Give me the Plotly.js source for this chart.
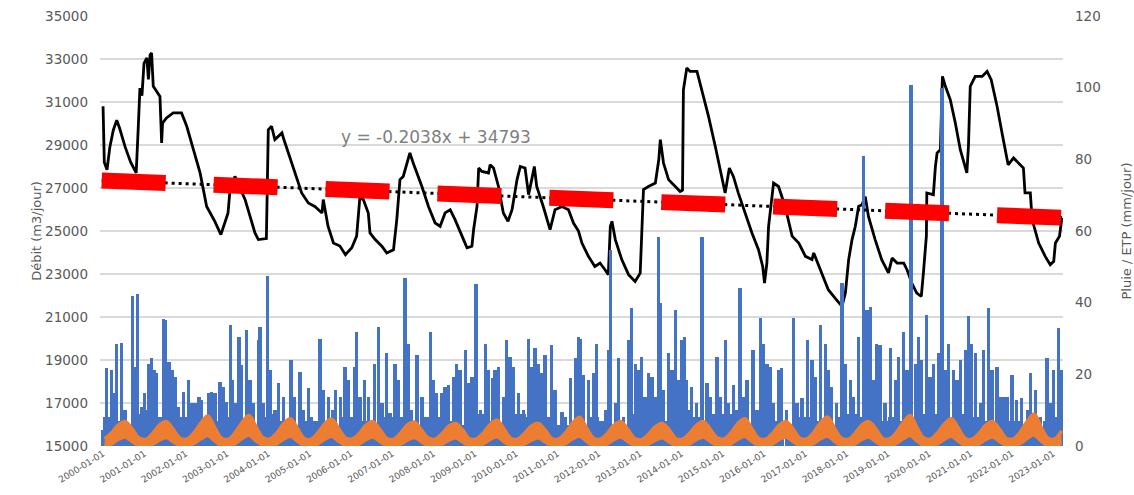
<!DOCTYPE html>
<html>
<head>
<meta charset="utf-8">
<script src="https://cdn.plot.ly/plotly-3.0.1.min.js"></script>
<style>html,body{margin:0;padding:0;background:#fff;}#chart{width:1134px;height:495px;}</style>
</head>
<body>
<div id="chart"></div>
<script>
// ---- Débit (m3/jour), left axis ----
const qDates = [
'2000-01-01','2000-01-12','2000-02-05','2000-03-01','2000-04-01','2000-05-01','2000-05-25','2000-07-15','2000-09-01','2000-10-20',
'2000-11-08','2000-11-22','2000-12-10','2000-12-28','2001-01-22','2001-02-05','2001-02-20','2001-03-05','2001-03-20','2001-04-20',
'2001-05-18','2001-06-02','2001-06-10','2001-07-15','2001-09-12','2001-11-25','2002-01-10','2002-03-10','2002-05-08','2002-07-05',
'2002-09-15','2002-11-08','2003-01-10','2003-01-25','2003-03-12','2003-06-10','2003-09-05','2003-10-05','2003-12-15','2004-01-01',
'2004-01-30','2004-02-28','2004-05-01','2004-05-15','2004-06-28','2004-08-25','2004-10-22','2004-12-20','2005-02-15','2005-04-20',
'2005-05-01','2005-06-12','2005-07-30','2005-09-25','2005-11-13','2006-01-08','2006-02-20','2006-03-20','2006-04-20','2006-06-03',
'2006-06-18','2006-08-03','2006-10-01','2006-11-13','2007-01-12','2007-02-10','2007-03-10','2007-04-08','2007-05-08','2007-06-06',
'2007-07-05','2007-09-20','2007-11-17','2008-01-15','2008-02-28','2008-04-12','2008-05-27','2008-07-09','2008-09-09','2008-10-23',
'2008-12-05','2008-12-20','2009-01-19','2009-02-03','2009-03-03','2009-05-01','2009-05-15','2009-06-14','2009-07-28','2009-09-09',
'2009-10-20','2009-11-25','2010-01-08','2010-02-06','2010-03-20','2010-04-20','2010-05-18','2010-06-10','2010-07-01','2010-08-28',
'2010-10-27','2010-12-10','2011-02-10','2011-04-08','2011-05-22','2011-07-05','2011-08-05','2011-10-01','2011-11-27','2012-01-12',
'2012-02-25','2012-03-25','2012-04-12','2012-04-26','2012-05-26','2012-07-22','2012-09-20','2012-11-17','2013-01-01','2013-01-15',
'2013-01-30','2013-03-15','2013-05-15','2013-06-14','2013-06-28','2013-07-26','2013-09-09','2013-11-07','2013-12-20','2014-01-10',
'2014-01-18','2014-02-17','2014-03-18','2014-05-18','2014-07-01','2014-08-28','2014-10-27','2014-12-25','2015-01-22','2015-02-28',
'2015-04-05','2015-05-18','2015-07-16','2015-09-16','2015-11-13','2015-12-20','2016-01-05','2016-01-26','2016-02-10','2016-03-25',
'2016-05-08','2016-07-05','2016-09-05','2016-11-03','2017-01-01','2017-02-28','2017-03-15','2017-05-25','2017-07-22','2017-09-20',
'2017-11-20','2017-12-20','2018-01-18','2018-02-17','2018-03-18','2018-04-16','2018-05-15','2018-06-14','2018-07-12','2018-09-09',
'2018-11-06','2019-01-05','2019-02-06','2019-03-22','2019-05-20','2019-06-18','2019-07-30','2019-09-12','2019-10-22','2019-11-10',
'2019-12-06','2019-12-10','2020-02-06','2020-02-24','2020-03-10','2020-04-08','2020-04-26','2020-05-22','2020-07-05','2020-08-18',
'2020-10-01','2020-11-28','2020-12-12','2020-12-28','2021-02-10','2021-04-12','2021-05-26','2021-07-01','2021-08-22','2021-10-05',
'2021-11-28','2022-01-15','2022-02-28','2022-04-12','2022-04-26','2022-06-12','2022-06-28','2022-08-25','2022-10-22','2022-12-05',
'2023-01-05','2023-01-20','2023-02-25','2023-03-18'
];
const qValues = [
30800,28200,27850,28900,29700,30150,29800,28900,28200,27700,
29900,31650,31300,32800,33050,32050,33200,33280,31730,31500,
31260,29090,30020,30260,30490,30490,29870,28780,27700,26140,
25450,24830,25840,26770,27540,26460,24910,24600,24650,29710,
29870,29250,29560,29300,28630,27700,26770,26300,26140,25840,
26460,25220,24440,24300,23900,24220,24760,26540,26460,25840,
24910,24600,24290,23980,24130,25530,27390,27540,28160,28630,
28160,27070,26140,25370,25220,25840,25990,25530,24760,24220,
24290,25060,26140,27930,27770,27700,28080,27930,27070,25840,
25450,25990,27390,28000,27930,26690,27390,28000,27070,26140,
25060,25990,26140,25990,25370,25000,24440,23820,23350,23510,
23200,22970,25220,25450,24600,23670,22970,22650,23040,24910,
26930,27070,27230,28310,29250,28160,27390,27070,26840,26900,
31570,32580,32420,32420,31570,30330,28930,27390,26770,27930,
27540,26770,25840,24910,24130,23350,22580,23510,25220,27230,
27070,26140,24760,24440,23820,23670,23980,23050,22270,21880,
21490,22110,23670,24600,25220,26140,26220,26600,25680,24600,
23670,23050,23740,23510,23510,23200,22580,22110,21960,23050,
24760,26770,26690,28000,28630,28780,32190,31730,31100,30020,
28780,27700,28930,31730,32190,32190,32420,32040,30800,29560,
28080,28400,28160,27930,26770,26770,25530,24440,23820,23430,
23590,24440,24760,25610
];

// ---- Pluie (mm/jour), right axis: visible spikes, position in decimal years ----
const rainYear = [
2000.00,2000.09,2000.21,2000.29,2000.33,2000.44,2000.53,2000.61,2000.71,2000.76,2000.84,2000.94,
2001.00,2001.10,2001.18,2001.24,2001.30,2001.38,2001.46,2001.52,2001.60,2001.68,2001.74,2001.82,2001.95,
2002.07,2002.15,2002.23,2002.32,2002.39,2002.55,2002.63,2002.71,2002.83,2002.91,2002.99,
2003.08,2003.12,2003.20,2003.29,2003.36,2003.48,2003.56,2003.64,2003.76,2003.80,2003.88,2003.99,
2004.04,2004.16,2004.25,2004.37,2004.55,2004.63,2004.77,2004.85,2004.97,
2005.05,2005.13,2005.25,2005.34,2005.46,2005.55,2005.62,2005.74,2005.86,2005.94,
2006.10,2006.14,2006.22,2006.33,2006.42,2006.57,2006.67,2006.75,2006.87,2006.95,
2007.07,2007.15,2007.31,2007.39,2007.47,2007.60,2007.72,2007.92,
2008.00,2008.08,2008.20,2008.28,2008.36,2008.48,2008.56,2008.64,2008.77,2008.85,2008.93,
2009.03,2009.13,2009.25,2009.33,2009.43,2009.49,2009.57,2009.69,2009.77,2009.85,2009.94,
2010.06,2010.18,2010.30,2010.38,2010.46,2010.54,2010.62,2010.70,2010.86,2010.94,
2011.11,2011.19,2011.31,2011.43,2011.51,2011.55,2011.63,2011.75,2011.87,2011.95,
2012.03,2012.16,2012.24,2012.29,2012.40,2012.48,2012.60,2012.72,2012.80,2012.88,2012.96,
2013.04,2013.12,2013.20,2013.29,2013.37,2013.45,2013.49,2013.57,2013.69,2013.77,2013.85,2013.93,
2014.01,2014.07,2014.13,2014.25,2014.37,2014.50,2014.62,2014.70,2014.86,2014.94,
2015.06,2015.14,2015.26,2015.34,2015.42,2015.50,2015.59,2015.73,2015.83,2015.91,2015.99,
2016.07,2016.15,2016.23,2016.35,2016.43,2016.55,2016.72,2016.80,2016.92,
2017.06,2017.16,2017.24,2017.36,2017.48,2017.56,2017.64,2017.76,2017.89,2017.97,
2018.09,2018.17,2018.29,2018.41,2018.49,2018.57,2018.65,2018.73,2018.81,2018.93,
2019.06,2019.18,2019.26,2019.38,2019.46,2019.56,2019.66,2019.74,2019.82,2019.94,
2020.02,2020.11,2020.23,2020.31,2020.39,2020.47,2020.59,2020.67,2020.75,2020.87,2020.95,
2021.03,2021.11,2021.24,2021.32,2021.44,2021.52,2021.64,2021.72,2021.80,2021.88,
2022.00,2022.12,2022.24,2022.37,2022.45,2022.57,2022.69,2022.85,2022.93,
2023.01,2023.13,2023.21
];
const rainMm = [
4.5,21.7,21.2,14.7,28.6,28.8,10.0,4.5,41.9,22.1,42.4,11.0,
14.7,23.0,24.5,21.2,20.3,5.4,35.4,35.2,23.5,21.2,19.3,11.0,15.2,
18.4,11.9,11.9,13.8,12.8,14.7,15.2,14.7,17.9,16.6,12.4,
33.8,18.4,11.9,30.5,22.6,32.4,18.4,11.9,29.6,33.3,11.9,47.4,
21.2,10.0,17.5,13.8,24.0,13.8,20.7,10.0,16.1,
8.2,6.3,29.8,15.6,13.8,10.0,15.6,13.8,22.1,18.4,
22.1,31.9,13.8,18.4,13.8,23.0,33.3,11.9,25.9,9.1,
23.0,18.4,46.8,28.6,10.0,25.4,13.8,31.9,
18.4,14.7,14.7,16.6,17.0,19.3,23.0,21.2,26.8,17.5,19.3,
45.2,10.0,28.6,21.2,18.9,21.2,22.1,13.8,29.6,24.9,22.1,
14.7,10.0,30.0,22.1,27.3,23.0,20.3,25.4,28.2,15.6,
9.6,8.2,18.9,24.5,30.5,29.8,19.8,18.4,20.3,28.6,
6.3,10.0,26.8,54.7,11.9,24.5,8.2,29.6,38.4,23.0,21.2,
24.9,13.8,20.3,19.3,13.8,58.4,39.8,15.6,25.9,21.2,37.9,18.4,
29.6,30.5,18.4,16.6,11.9,58.4,17.5,13.8,24.9,13.8,
29.6,11.9,17.0,10.0,44.0,13.8,18.4,26.8,10.0,35.6,28.6,
23.0,22.1,11.9,21.2,21.7,10.0,35.6,11.9,13.3,
29.6,24.0,19.3,33.8,28.6,21.2,16.6,11.9,45.4,23.0,
18.4,13.8,30.5,81.0,37.9,38.8,18.4,28.6,28.2,11.9,
27.3,18.4,24.9,31.9,21.2,100.8,23.0,30.5,24.0,36.6,
19.3,23.0,25.9,100.0,21.2,28.6,21.2,18.4,24.0,26.8,36.3,
28.6,25.9,11.9,26.8,38.4,21.2,22.1,13.8,13.8,13.8,
19.8,12.8,13.3,10.0,20.3,15.6,8.2,24.5,11.9,
21.2,32.8,21.2
];
// background rainfall level, one value per quarter (Feb, May, Aug, Nov)
const baseQuarterMonths = ['02','05','08','11'];
const rainBase = [
[8,7,5,9],[10,8,6,8],[8,7,5,7],[8,6,5,8],[9,7,5,7],[7,6,5,8],[8,7,5,8],[8,7,6,8],
[8,7,6,8],[9,7,6,9],[9,8,6,8],[6,6,5,8],[7,6,6,9],[10,8,7,9],[10,8,6,9],[9,7,5,8],
[9,7,5,8],[8,7,6,8],[9,8,6,7],[8,7,6,9],[9,7,6,9],[8,7,6,7],[7,6,5,7],[8]
];

// ---- ETP (mm/jour), right axis: upper and lower edge of the daily band, one value every 2 months ----
const etpMonths = ['01','03','05','07','09','11'];
const etpHigh = [
[2.0,3.6,5.8,6.8,4.7,2.2],[1.9,3.5,5.9,6.8,4.5,2.1],[2.0,3.7,6.4,8.4,5.1,2.2],[1.9,3.8,6.6,8.5,5.3,2.3],
[2.0,3.6,6.2,7.6,4.9,2.1],[1.9,3.7,6.2,7.5,4.8,2.2],[2.0,3.5,5.8,6.8,4.6,2.1],[1.9,3.6,5.9,6.7,4.5,2.2],
[1.9,3.4,5.5,6.3,4.4,2.0],[2.0,3.6,6.0,7.2,4.7,2.1],[1.9,3.5,5.6,6.3,4.4,2.0],[2.0,3.8,6.4,8.0,5.0,2.2],
[1.9,3.5,5.8,6.8,4.6,2.1],[1.8,3.3,5.4,6.3,4.5,2.0],[2.0,3.6,5.8,6.8,4.6,2.2],[2.0,3.7,6.3,7.6,4.8,2.1],
[1.9,3.5,5.8,6.8,4.7,2.1],[2.0,3.8,6.5,8.1,4.9,2.2],[1.9,3.5,5.9,6.8,4.8,2.1],[2.0,3.7,6.5,8.5,5.1,2.2],
[2.0,3.7,6.2,7.6,4.9,2.1],[1.9,3.5,5.8,6.8,4.6,2.1],[2.0,3.9,6.8,8.9,5.3,2.2],[2.0,4.2]
];
const etpLow = [
[0.0,0.6,1.8,2.5,1.2,0.1],[0.0,0.5,1.7,2.4,1.1,0.1],[0.0,0.7,2.0,2.9,1.4,0.1],[0.0,0.7,2.1,3.0,1.4,0.2],
[0.0,0.6,1.9,2.7,1.3,0.1],[0.0,0.6,1.9,2.7,1.3,0.1],[0.0,0.6,1.8,2.5,1.2,0.1],[0.0,0.5,1.7,2.4,1.2,0.1],
[0.0,0.5,1.6,2.3,1.1,0.1],[0.0,0.6,1.8,2.6,1.2,0.1],[0.0,0.5,1.6,2.3,1.1,0.1],[0.0,0.7,2.0,2.8,1.3,0.1],
[0.0,0.6,1.8,2.5,1.2,0.1],[0.0,0.5,1.6,2.3,1.1,0.1],[0.0,0.6,1.8,2.5,1.2,0.1],[0.0,0.6,1.9,2.7,1.3,0.1],
[0.0,0.6,1.8,2.5,1.2,0.1],[0.0,0.7,2.0,2.8,1.3,0.1],[0.0,0.6,1.8,2.5,1.2,0.1],[0.0,0.7,2.0,2.9,1.4,0.1],
[0.0,0.6,1.9,2.7,1.3,0.1],[0.0,0.6,1.8,2.5,1.2,0.1],[0.0,0.7,2.1,3.1,1.4,0.1],[0.0,0.8]
];
const firstYear = 2000;

// ---- linear trend (Excel) ----
const trendDates = ['1999-12-20','2023-03-20'];
const trendValues = [27352, 25620];
const trendLabel = 'y = -0.2038x + 34793';

// ---- tick labels ----
const tickYears = ['2000','2001','2002','2003','2004','2005','2006','2007','2008','2009','2010','2011',
'2012','2013','2014','2015','2016','2017','2018','2019','2020','2021','2022','2023'];
const tickVals = tickYears.map(y => y + '-01-01');
const tickText = tickVals.slice();

// ---- build traces ----
function decYearToDate(v){
  const yr = Math.floor(v), f = v - yr;
  const a = Date.UTC(yr,0,1), b = Date.UTC(yr+1,0,1);
  return new Date(a + f*(b-a)).toISOString().slice(0,10);
}
const DAY = 86400000;
const blue = '#4472C4', orange = '#ED7D31';

const baseX = [], baseY = [];
rainBase.forEach((row,i)=>row.forEach((v,j)=>{baseX.push((firstYear+i)+'-'+baseQuarterMonths[j]+'-15'); baseY.push(v);}));
const etpX = [], etpHi = [], etpLo = [];
etpHigh.forEach((row,i)=>row.forEach((v,j)=>{etpX.push((firstYear+i)+'-'+etpMonths[j]+'-15'); etpHi.push(v); etpLo.push(etpLow[i][j]);}));

const traces = [
  {type:'scatter', mode:'lines', x:qDates, y:qValues, yaxis:'y', xaxis:'x',
   line:{color:'#000000', width:2.8}, hoverinfo:'skip', showlegend:false},
  {type:'bar', x:baseX, y:baseY, yaxis:'y2', width:baseX.map(()=>91*DAY),
   marker:{color:blue, line:{width:0}}, hoverinfo:'skip', showlegend:false},
  {type:'bar', x:rainYear.map(decYearToDate), y:rainMm, yaxis:'y2', width:rainYear.map(()=>29*DAY),
   marker:{color:blue, line:{width:0}}, hoverinfo:'skip', showlegend:false},
  {type:'scatter', mode:'lines', x:etpX, y:etpLo, yaxis:'y2', line:{color:orange, width:3.5, shape:'spline'},
   hoverinfo:'skip', showlegend:false},
  {type:'scatter', mode:'lines', x:etpX, y:etpHi, yaxis:'y2', line:{color:orange, width:3.5, shape:'spline'},
   fill:'tonexty', fillcolor:orange, hoverinfo:'skip', showlegend:false},
  {type:'scatter', mode:'lines', x:trendDates, y:trendValues, yaxis:'y3',
   line:{color:'#000000', width:3, dash:'3px,4px'}, hoverinfo:'skip', showlegend:false},
  {type:'scatter', mode:'lines', x:trendDates, y:trendValues, yaxis:'y3',
   line:{color:'#FF0000', width:16, dash:'64px,48px'}, hoverinfo:'skip', showlegend:false}
];

const grey = '#595959';
const layout = {
  width:1134, height:495,
  margin:{l:100, r:71, t:16, b:49, pad:0},
  paper_bgcolor:'#ffffff', plot_bgcolor:'#ffffff',
  barmode:'overlay', bargap:0, showlegend:false, hovermode:false,
  font:{family:'DejaVu Sans, Arial, sans-serif', color:grey},
  xaxis:{type:'date', range:['1999-12-05','2023-03-28'], tickmode:'array', tickvals:tickVals, ticktext:tickText,
    tickangle:-32, tickfont:{size:9, color:grey}, showgrid:false, zeroline:false, showline:false, ticks:''},
  yaxis:{range:[15000,35000], tick0:15000, dtick:2000, tickformat:'d', showgrid:true, gridcolor:'#d9d9d9', gridwidth:1.5,
    zeroline:false, showline:false, ticks:'', tickfont:{size:13.5, color:grey}, ticklabelstandoff:11,
    title:{text:'Débit (m3/jour)', font:{size:13, color:grey}, standoff:0}},
  yaxis2:{overlaying:'y', side:'right', range:[0,120], tick0:0, dtick:20, tickformat:'d', showgrid:false, zeroline:false,
    showline:false, ticks:'', tickfont:{size:13.5, color:grey}, ticklabelstandoff:11,
    title:{text:'Pluie / ETP (mm/jour)', font:{size:13, color:grey}, standoff:24}},
  yaxis3:{overlaying:'y', range:[15000,35000], visible:false},
  annotations:[{xref:'paper', yref:'paper', x:0.349, y:0.7186, text:trendLabel, showarrow:false,
    font:{size:17, color:'#808080'}, xanchor:'center', yanchor:'middle'}],
  shapes:[{type:'rect', xref:'paper', yref:'paper', x0:0, x1:0.0675, y0:0.986, y1:1.02,
    fillcolor:'#ffffff', line:{width:0}, layer:'above'}]
};
Plotly.newPlot('chart', traces, layout, {displayModeBar:false, staticPlot:true});
</script>
</body>
</html>
